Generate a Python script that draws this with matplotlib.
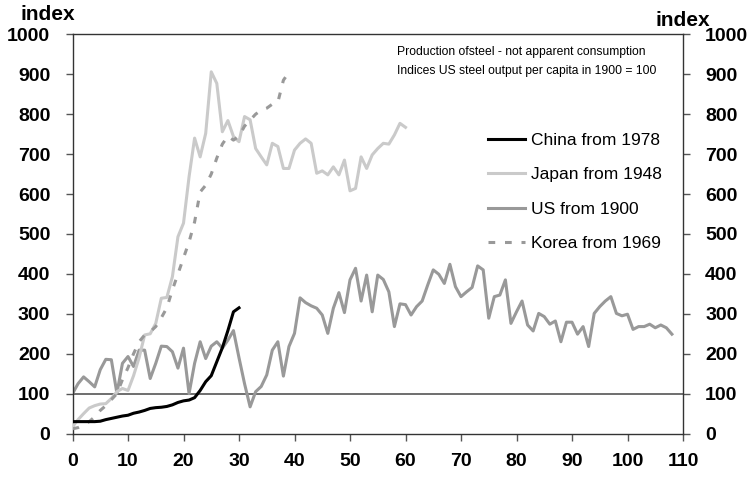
import matplotlib
matplotlib.use("Agg")
import matplotlib.pyplot as plt
from matplotlib import font_manager as fm

FONT = "Liberation Sans"

# ---- data ----
china_x = list(range(0, 31))
china = [30, 30, 30, 30, 30, 31, 35, 38, 41, 44, 46, 51, 54, 58, 63, 65, 66, 68, 72, 78,
         82, 84, 90, 108, 130, 145, 180, 215, 258, 305, 315]

japan_x = list(range(0, 61))
japan = [17, 35, 50, 64, 70, 74, 75, 88, 105, 113, 108, 145, 190, 247, 250, 276, 339, 341, 393, 493,
         527, 643, 740, 693, 752, 906, 877, 756, 784, 744, 731, 794, 786, 714, 693, 673, 727, 719, 664, 664,
         710, 727, 738, 727, 652, 658, 648, 668, 648, 685, 608, 614, 693, 664, 698, 714, 727, 725, 748, 777,
         767]

us_x = list(range(0, 109))
us = [100, 125, 142, 130, 117, 160, 186, 185, 101, 176, 193, 168, 209, 209, 138, 176, 219, 218, 205, 164,
      214, 100, 176, 230, 188, 219, 230, 214, 234, 258, 190, 125, 67, 105, 118, 147, 209, 230, 144, 218,
      251, 340, 328, 320, 314, 297, 251, 314, 353, 303, 385, 414, 332, 397, 305, 397, 386, 355, 268, 325,
      323, 297, 318, 332, 372, 410, 399, 376, 424, 368, 343, 355, 366, 420, 410, 289, 343, 347, 385, 276,
      305, 332, 272, 257, 301, 293, 274, 282, 230, 279, 279, 249, 268, 218, 301, 318, 332, 343, 301, 295,
      299, 261, 268, 268, 274, 265, 272, 265, 249]

korea_x = list(range(0, 40))
korea = [12, 15, 22, 30, 42, 58, 70, 85, 100, 135, 165, 200, 230, 247, 255, 268, 290, 315, 360, 400,
         440, 480, 530, 605, 622, 650, 690, 725, 745, 735, 745, 770, 785, 800, 810, 815, 825, 830, 885, 905]

labels = ["China from 1978", "Japan from 1948", "US from 1900", "Korea from 1969"]
y_ticks = list(range(0, 1001, 100))
x_ticks = list(range(0, 111, 10))
note_lines = ["Production ofsteel - not apparent consumption",
              "Indices US steel output per capita in 1900 = 100"]
axis_title = "index"

# ---- figure ----
fig = plt.figure(figsize=(7.48, 4.83), dpi=100)
ax = fig.add_axes([72.5 / 748, 1 - 433.6 / 483, (683 - 72.5) / 748, (433.6 - 34.3) / 483])

ax.axhline(100, color="#555555", lw=1.2, zorder=1)
ax.plot(china_x, china, color="#000000", lw=2.2, label=labels[0], zorder=4)
ax.plot(japan_x, japan, color="#cacaca", lw=2.2, label=labels[1], zorder=3)
ax.plot(us_x, us, color="#999999", lw=2.2, label=labels[2], zorder=2)
ax.plot(korea_x, korea, color="#999999", lw=2.2, ls=(0, (2.2, 3.2)), label=labels[3], zorder=3)

ax.set_xlim(0, 110)
ax.set_ylim(0, 1000)
ax.set_xticks(x_ticks)
ax.set_yticks(y_ticks)

tick_fp = fm.FontProperties(family=FONT, weight="bold", size=14)
ax.set_xticklabels([str(v) for v in x_ticks])
ax.set_yticklabels([str(v) for v in y_ticks])
ax.tick_params(axis="y", which="both", direction="out", length=5, width=1, color="#555555",
               left=True, right=True, labelleft=True, labelright=True, pad=11)
ax.tick_params(axis="x", direction="out", length=5, width=1, color="#555555", pad=9)
for lab in ax.get_xticklabels() + ax.get_yticklabels():
    lab.set_fontproperties(tick_fp)
for t in ax.yaxis.get_major_ticks():
    t.label2.set_fontproperties(tick_fp)

for s in ax.spines.values():
    s.set_color("#333333")
    s.set_linewidth(1.0)

title_fp = fm.FontProperties(family=FONT, weight="bold", size=15)
fig.text(20 / 748, 1 - 15 / 483, axis_title, fontproperties=title_fp, va="center", ha="left")
fig.text(710 / 748, 1 - 20 / 483, axis_title, fontproperties=title_fp, va="center", ha="right")

note_fp = fm.FontProperties(family=FONT, size=8.7)
fig.text(397 / 748, 1 - 52 / 483, note_lines[0], fontproperties=note_fp, va="center", ha="left")
fig.text(397 / 748, 1 - 71 / 483, note_lines[1], fontproperties=note_fp, va="center", ha="left")

leg = ax.legend(loc="upper left", bbox_to_anchor=((488 - 72.5) / 610.5, (433.6 - 133) / 399.3),
                frameon=False, prop=fm.FontProperties(family=FONT, size=12.5),
                handlelength=2.15, handletextpad=0.35, labelspacing=1.1, borderaxespad=0,
                borderpad=0)

fig.savefig("out.png", dpi=100)
